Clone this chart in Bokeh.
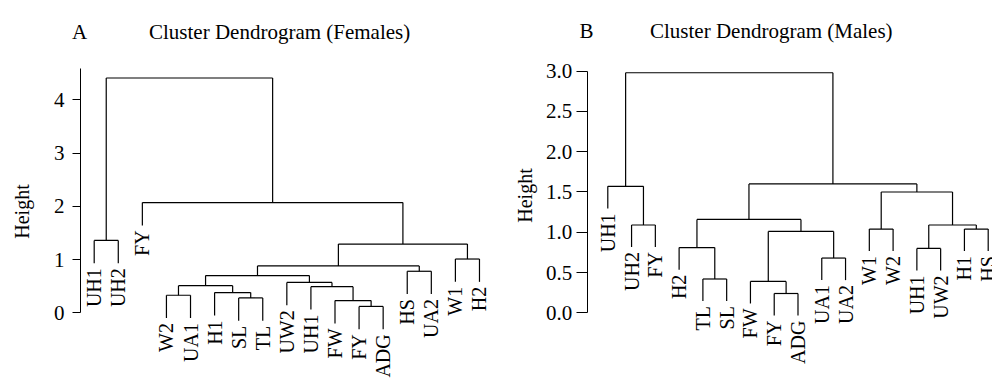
import math
from bokeh.plotting import figure
from bokeh.layouts import row
from bokeh.models import (Range1d, FixedTicker, Label, ColumnDataSource,
                          LinearAxis, PrintfTickFormatter, BasicTickFormatter)
from bokeh.embed import file_html
from bokeh.resources import INLINE
from bokeh.core.properties import value

FONT = "Liberation Serif"

# ---------------- Panel A: Females ----------------
labels_f = ["UH1", "UH2", "FY", "W2", "UA1", "H1", "SL", "TL", "UW2",
            "UH1", "FW", "FY", "ADG", "HS", "UA2", "W1", "H2"]
# R-style merge matrix: negative = leaf (1-based, display order), positive = earlier merge
merge_f = [(-12, -13), (-11, 1), (-7, -8), (-4, -5), (-6, 3), (-10, 2), (4, 5),
           (-9, 6), (7, 8), (-14, -15), (9, 10), (-16, -17), (11, 12),
           (-1, -2), (-3, 13), (14, 15)]
height_f = [0.12, 0.23, 0.28, 0.33, 0.38, 0.49, 0.51, 0.57, 0.70, 0.78,
            0.88, 1.01, 1.29, 1.36, 2.07, 4.41]
ticks_f = [0, 1, 2, 3, 4]

# ---------------- Panel B: Males ----------------
labels_m = ["UH1", "UH2", "FY", "H2", "TL", "SL", "FW", "FY", "ADG",
            "UA1", "UA2", "W1", "W2", "UH1", "UW2", "H1", "HS"]
merge_m = [(-8, -9), (-7, 1), (-5, -6), (-10, -11), (-14, -15), (-4, 3),
           (2, 4), (-12, -13), (-16, -17), (-2, -3), (5, 9), (6, 7), (8, 11),
           (-1, 10), (12, 13), (14, 15)]
height_m = [0.24, 0.39, 0.42, 0.68, 0.80, 0.81, 1.01, 1.04, 1.04, 1.09,
            1.09, 1.16, 1.50, 1.57, 1.60, 2.98]
ticks_m = [0.0, 0.5, 1.0, 1.5, 2.0, 2.5, 3.0]


def dendro(labels, merge, height, hang=0.1):
    """Segments and leaf labels of an R-style hclust plot (hang = 0.1)."""
    dh = hang * (max(height) - min(height))
    cx = {}
    x0, y0, x1, y1 = [], [], [], []
    lx, ly, lt = [], [], []
    for k, (a, b) in enumerate(merge):
        h = height[k]
        pts = []
        for c in (a, b):
            if c < 0:
                xi = -c
                yb = h - dh
                lx.append(xi); ly.append(yb); lt.append(labels[xi - 1])
            else:
                xi = cx[c]
                yb = height[c - 1]
            pts.append(xi)
            x0.append(xi); y0.append(yb); x1.append(xi); y1.append(h)
        x0.append(pts[0]); y0.append(h); x1.append(pts[1]); y1.append(h)
        cx[k + 1] = (pts[0] + pts[1]) / 2.0
    seg = ColumnDataSource(dict(x0=x0, y0=y0, x1=x1, y1=y1))
    lab = ColumnDataSource(dict(x=lx, y=ly, text=lt))
    return seg, lab


def make_panel(labels, merge, height, ticks, fmt, xr, yr, axis_x, axis_top,
               tick_out, tick_standoff, letter, title, letter_x, title_x,
               title_y, ylab_x, ylab_y):
    p = figure(width=496, height=379, output_backend="svg",
               toolbar_location=None, x_range=Range1d(*xr), y_range=Range1d(*yr),
               x_axis_location=None, y_axis_location=None, min_border=0)
    p.outline_line_color = None
    p.xgrid.visible = False
    p.ygrid.visible = False
    p.background_fill_color = "white"
    p.border_fill_color = "white"

    ax = LinearAxis(fixed_location=axis_x)
    ax.ticker = FixedTicker(ticks=ticks)
    ax.formatter = fmt
    ax.bounds = (0, axis_top)
    ax.minor_tick_line_color = None
    ax.major_tick_in = 0
    ax.major_tick_out = tick_out
    ax.major_label_standoff = tick_standoff
    ax.major_label_text_font = FONT
    ax.major_label_text_font_size = "21px"
    ax.major_label_text_color = "black"
    ax.axis_line_color = "black"
    ax.major_tick_line_color = "black"
    p.add_layout(ax, "left")

    seg, lab = dendro(labels, merge, height)
    p.segment(x0="x0", y0="y0", x1="x1", y1="y1", source=seg,
              line_color="black", line_width=1.2)
    p.text(x="x", y="y", text="text", source=lab, angle=math.pi / 2,
           text_align="right", text_baseline="middle", y_offset=5,
           text_font=value(FONT), text_font_size="20px", text_color="black")

    p.add_layout(Label(x=ylab_x, y=ylab_y, x_units="screen", y_units="screen",
                       text="Height", angle=math.pi / 2, text_align="center",
                       text_baseline="middle", text_font=FONT,
                       text_font_size="20px", text_color="black"))
    p.add_layout(Label(x=letter_x, y=title_y, x_units="screen", y_units="screen",
                       text=letter, text_font=FONT, text_font_size="21px",
                       text_baseline="alphabetic", text_color="black"))
    p.add_layout(Label(x=title_x, y=title_y, x_units="screen", y_units="screen",
                       text=title, text_font=FONT, text_font_size="21px",
                       text_baseline="alphabetic", text_color="black"))
    return p


pA = make_panel(labels_f, merge_f, height_f, ticks_f, BasicTickFormatter(),
                xr=(-2.891, 17.707), yr=(-1.2526, 5.865), axis_x=0.431,
                axis_top=4.59, tick_out=8, tick_standoff=8,
                letter="A", title="Cluster Dendrogram (Females)",
                letter_x=71.5, title_x=148.5, title_y=348,
                ylab_x=21.5, ylab_y=168)
pB = make_panel(labels_m, merge_m, height_m, ticks_m,
                PrintfTickFormatter(format="%.1f"),
                xr=(-3.681, 17.181), yr=(-0.8276, 3.877), axis_x=0.1335,
                axis_top=3.0, tick_out=11, tick_standoff=4,
                letter="B", title="Cluster Dendrogram (Males)",
                letter_x=83, title_x=153.5, title_y=349,
                ylab_x=28, ylab_y=184)

layout = row(pA, pB)
open("out.html", "w").write(file_html(layout, INLINE))
